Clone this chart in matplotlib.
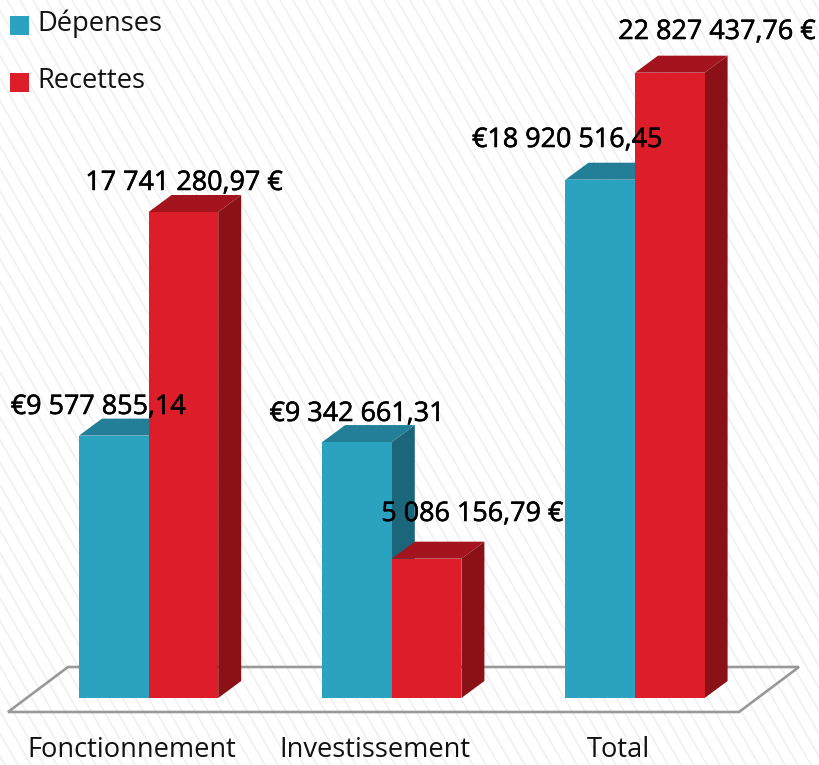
import matplotlib
matplotlib.use('Agg')
import matplotlib.pyplot as plt
import matplotlib.patheffects as pe
from matplotlib.patches import Polygon, Rectangle

categories = ['Fonctionnement', 'Investissement', 'Total']
depenses = [9577855.14, 9342661.31, 18920516.45]
recettes = [17741280.97, 5086156.79, 22827437.76]
depenses_labels = ['€9 577 855,14', '€9 342 661,31', '€18 920 516,45']
recettes_labels = ['17 741 280,97 €', '5 086 156,79 €', '22 827 437,76 €']
series_names = ['Dépenses', 'Recettes']

W, H = 819, 765
BASE_PX = 698
PX_PER_EURO = 486 / 17741280.97
GROUP_PX = 243.2
FIRST_PX = 148.6
BAR_W = 69.6 / GROUP_PX
DX = 23 / GROUP_PX
DY = 17 / PX_PER_EURO
FONT = 'Open Sans'

BLUE = ('#2ca2c1', '#237f98', '#1c667b')
RED = ('#dd1e2a', '#a4141e', '#8a1217')

fig = plt.figure(figsize=(W / 100, H / 100), dpi=100)
ax = fig.add_axes([0, 0, 1, 1])
# x in group index, y in euros, scaled so the picture lands on the reference pixels
ax.set_xlim(-FIRST_PX / GROUP_PX, (W - FIRST_PX) / GROUP_PX)
ax.set_ylim(-(H - BASE_PX) / PX_PER_EURO, BASE_PX / PX_PER_EURO)
ax.axis('off')


def px(x, y):
    return (x - FIRST_PX) / GROUP_PX, (BASE_PX - y) / PX_PER_EURO


def draw_background():
    for start in range(-500, 900, 13):
        xa, ya = px(start, 0)
        xb, yb = px(start + 440, H)
        ax.plot([xa, xb], [ya, yb], color='#f0f0f0', lw=1.2, zorder=0)


def draw_floor():
    corners = [px(8, 712), px(739, 712), px(799, 667), px(68, 667)]
    ax.add_patch(Polygon(corners, closed=True, fill=False, edgecolor='#999999', lw=1.9, zorder=1))


def draw_bar(left, value, colors, zorder):
    right = left + BAR_W
    ax.add_patch(Polygon([(right, 0), (right + DX, DY), (right + DX, value + DY), (right, value)],
                         facecolor=colors[2], edgecolor='none', zorder=zorder))
    ax.add_patch(Polygon([(left, value), (left + DX, value + DY), (right + DX, value + DY), (right, value)],
                         facecolor=colors[1], edgecolor='none', zorder=zorder))
    ax.add_patch(Rectangle((left, 0), BAR_W, value, facecolor=colors[0], edgecolor='none', zorder=zorder))


def draw_legend():
    for name, color, y in zip(series_names, [BLUE[0], RED[0]], [26, 83]):
        xa, ya = px(10, y + 9)
        xb, yb = px(29, y - 10)
        ax.add_patch(Rectangle((xa, ya), xb - xa, yb - ya, facecolor=color, edgecolor='none', zorder=6))
        tx, ty = px(37, y - 2)
        ax.text(tx, ty, name, fontsize=19.6, family=FONT, va='center', ha='left', color='#111111', zorder=6)


draw_background()
draw_floor()

for i in range(len(categories)):
    draw_bar(i - BAR_W, depenses[i], BLUE, 2)
    draw_bar(i, recettes[i], RED, 3)
    _, ty = px(0, 750)
    ax.text(i - 0.07, ty, categories[i], fontsize=19.6, family=FONT,
            ha='center', va='center', color='#111111', zorder=6)

draw_legend()

dep_label_px = [(98, 407), (357, 414), (567, 140)]
rec_label_px = [(184, 183), (472, 514), (717, 32)]
stroke = [pe.withStroke(linewidth=0.4, foreground='black')]
for i in range(len(categories)):
    for text, (x, y) in ((depenses_labels[i], dep_label_px[i]), (recettes_labels[i], rec_label_px[i])):
        tx, ty = px(x, y)
        ax.text(tx, ty, text, fontsize=19.4, family=FONT, ha='center', va='center',
                color='black', zorder=7, path_effects=stroke)

fig.savefig('out.png', dpi=100)
